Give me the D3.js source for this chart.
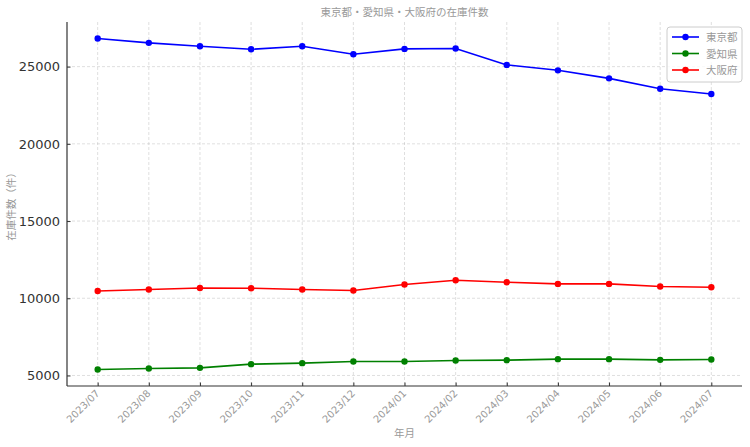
<!DOCTYPE html>
<html><head><meta charset="utf-8">
<script src="https://cdn.jsdelivr.net/npm/d3@7"></script>
<style>body{margin:0;background:#fff;}</style>
</head><body>
<svg id="c" width="750" height="447"></svg>
<script>
const months = ["2023/07","2023/08","2023/09","2023/10","2023/11","2023/12","2024/01","2024/02","2024/03","2024/04","2024/05","2024/06","2024/07"];
const tokyo = [26818,26539,26318,26123,26318,25799,26149,26169,25110,24760,24240,23571,23227];
const aichi = [5390,5455,5494,5734,5799,5909,5909,5974,5994,6058,6058,6013,6039];
const osaka = [10474,10565,10669,10649,10565,10500,10890,11169,11039,10929,10929,10760,10714];
const seriesNames = ["東京都","愛知県","大阪府"];
const seriesColors = ["#0000ff","#008000","#ff0000"];
const yTicks = [5000,10000,15000,20000,25000];
const title = "東京都・愛知県・大阪府の在庫件数";
const xLabel = "年月";
const yLabel = "在庫件数（件）";

const series = [tokyo, aichi, osaka].map((v,i)=>({name:seriesNames[i], color:seriesColors[i], values:v}));
const svg = d3.select("#c");
const L=67, R=742, T=22, B=386;
const font = "'Noto Sans CJK JP', 'DejaVu Sans', sans-serif";

const all = [].concat(tokyo, aichi, osaka);
const mn = d3.min(all), mx = d3.max(all), pad=(mx-mn)*0.05;
const y = d3.scaleLinear().domain([mn-pad, mx+pad]).range([B,T]);
const n = months.length;
const xpad = (n-1)*0.05;
const x = d3.scaleLinear().domain([-xpad, n-1+xpad]).range([L,R]);

// grid
const g = svg.append("g");
g.selectAll(".gx").data(months).enter().append("line")
 .attr("x1",(d,i)=>x(i)).attr("x2",(d,i)=>x(i)).attr("y1",T).attr("y2",B)
 .attr("stroke","#b0b0b0").attr("stroke-opacity",0.5).attr("stroke-dasharray","3,2").attr("stroke-width",0.8);
g.selectAll(".gy").data(yTicks).enter().append("line")
 .attr("x1",L).attr("x2",R).attr("y1",d=>y(d)).attr("y2",d=>y(d))
 .attr("stroke","#b0b0b0").attr("stroke-opacity",0.5).attr("stroke-dasharray","3,2").attr("stroke-width",0.8);

// axes
const yAxis = d3.axisLeft(y).tickValues(yTicks).tickSizeInner(-3.5).tickSizeOuter(0).tickPadding(7).tickFormat(d3.format("d"));
const ya = svg.append("g").attr("transform",`translate(${L},0)`).call(yAxis);
ya.select(".domain").attr("stroke","#333").attr("stroke-width",1.2).attr("d",`M0,${T}V${B}`);
ya.selectAll(".tick line").attr("stroke","#333");
ya.selectAll(".tick text").attr("fill","#333").style("font-family","'DejaVu Sans', sans-serif").style("font-size","13px");

const xAxis = d3.axisBottom(x).tickValues(d3.range(n)).tickSizeInner(-3.5).tickSizeOuter(0).tickFormat(i=>months[i]);
const xa = svg.append("g").attr("transform",`translate(0,${B})`).call(xAxis);
xa.select(".domain").attr("stroke","#333").attr("stroke-width",1.2).attr("d",`M${L},0H${R}`);
xa.selectAll(".tick line").attr("stroke","#333");
xa.selectAll(".tick text").attr("fill","#999").style("font-family","'DejaVu Sans', sans-serif").style("font-size","10px")
 .attr("text-anchor","end").attr("dy",null).attr("y",0)
 .attr("transform","translate(2,8) rotate(-45)");

// lines
const line = d3.line().x((d,i)=>x(i)).y(d=>y(d));
series.forEach(s=>{
  svg.append("path").attr("d",line(s.values)).attr("fill","none").attr("stroke",s.color).attr("stroke-width",1.6);
  svg.selectAll(null).data(s.values).enter().append("circle")
    .attr("cx",(d,i)=>x(i)).attr("cy",d=>y(d)).attr("r",3.2).attr("fill",s.color);
});

// title & labels
svg.append("text").attr("x",(L+R)/2).attr("y",16).attr("text-anchor","middle")
 .attr("fill","#999").style("font-family",font).style("font-size","10.5px").text(title);
svg.append("text").attr("x",(L+R)/2).attr("y",437).attr("text-anchor","middle")
 .attr("fill","#999").style("font-family",font).style("font-size","10.5px").text(xLabel);
svg.append("text").attr("transform",`translate(15,${(T+B)/2}) rotate(-90)`).attr("text-anchor","middle")
 .attr("fill","#999").style("font-family",font).style("font-size","10.5px").text(yLabel);

// legend
const lg = svg.append("g").attr("transform","translate(667,27)");
lg.append("rect").attr("width",75).attr("height",55).attr("rx",3)
 .attr("fill","#fff").attr("fill-opacity",0.8).attr("stroke","#ccc").attr("stroke-width",1);
series.forEach((s,i)=>{
  const yy = 10 + i*16.5;
  lg.append("line").attr("x1",5).attr("x2",32).attr("y1",yy).attr("y2",yy).attr("stroke",s.color).attr("stroke-width",1.6);
  lg.append("circle").attr("cx",18.5).attr("cy",yy).attr("r",3.2).attr("fill",s.color);
  lg.append("text").attr("x",39).attr("y",yy+4).attr("fill","#999")
   .style("font-family",font).style("font-size","10.5px").text(s.name);
});
</script>
</body></html>
